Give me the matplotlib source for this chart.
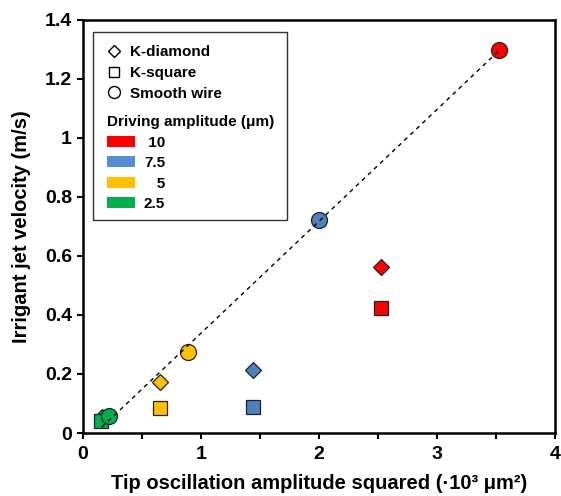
import numpy as np
import matplotlib
matplotlib.use("Agg")
import matplotlib.pyplot as plt
from matplotlib.lines import Line2D
from matplotlib.patches import Patch, Rectangle

plt.rcParams['font.family'] = ['Liberation Sans', 'DejaVu Sans']
plt.rcParams['font.weight'] = 'bold'

# Data (order: 10, 7.5, 5, 2.5 µm driving amplitude)
amplitudes = [" 10", "7.5", "   5", "2.5"]
point_colors = ["#FF0000", "#4F81BD", "#FFC000", "#00B050"]
legend_colors = ["#FF0000", "#558ED5", "#FFC000", "#00B050"]

diamond_x = [2.53, 1.44, 0.65, 0.16]
diamond_y = [0.562, 0.214, 0.173, 0.055]
square_x = [2.53, 1.44, 0.65, 0.155]
square_y = [0.424, 0.087, 0.086, 0.040]
circle_x = [3.53, 2.00, 0.89, 0.22]
circle_y = [1.298, 0.723, 0.275, 0.057]

fig = plt.figure(figsize=(5.61, 4.96), dpi=100)
ax = fig.add_axes([0.148, 0.127, 0.841, 0.833])

edge = "#222222"
for i in range(4):
    ax.plot(diamond_x[i], diamond_y[i], marker='D', ms=8.5, mfc=point_colors[i],
            mec=edge, mew=0.9, ls='none', zorder=3)
for i in range(4):
    ax.plot(square_x[i], square_y[i], marker='s', ms=10, mfc=point_colors[i],
            mec=edge, mew=0.9, ls='none', zorder=4)
for i in range(4):
    ax.plot(circle_x[i], circle_y[i], marker='o', ms=11.5, mfc=point_colors[i],
            mec=edge, mew=0.9, ls='none', zorder=5)

# linear fit through smooth wire data
k, b = np.polyfit(circle_x, circle_y, 1)
xl = np.array([min(circle_x) - 0.06, max(circle_x)])
ax.plot(xl, k * xl + b, color='black', lw=1.0, ls=(0, (3, 3)), zorder=6)

ax.set_xlim(0, 4)
ax.set_ylim(0, 1.4)
ax.set_xticks([0, 1, 2, 3, 4])
ax.set_xticklabels(["0", "1", "2", "3", "4"])
ax.set_xticks([0.5, 1.5, 2.5, 3.5], minor=True)
yt = [0, 0.2, 0.4, 0.6, 0.8, 1.0, 1.2, 1.4]
ax.set_yticks(yt)
ax.set_yticklabels(["0", "0.2", "0.4", "0.6", "0.8", "1", "1.2", "1.4"])
ax.tick_params(which='both', direction='out', width=1.5, length=4.5, labelsize=14)
ax.tick_params(axis='x', which='both', pad=4.5)
ax.tick_params(axis='y', which='both', pad=3.5)
for s in ax.spines.values():
    s.set_linewidth(1.8)

ax.set_xlabel("Tip oscillation amplitude squared (\u00b710\u00b3 \u03bcm\u00b2)",
              fontsize=14.5, fontweight='bold', labelpad=8)
ax.set_ylabel("Irrigant jet velocity (m/s)", fontsize=14.5, fontweight='bold', labelpad=10)

# Legend
mh = [Line2D([], [], marker='D', ms=6.2, mfc='white', mec='black', mew=1.0, ls='none'),
      Line2D([], [], marker='s', ms=7.2, mfc='white', mec='black', mew=1.0, ls='none'),
      Line2D([], [], marker='o', ms=8.6, mfc='white', mec='black', mew=1.0, ls='none')]
leg1 = ax.legend(mh, ["K-diamond", "K-square", "Smooth wire"], loc='upper left',
                 bbox_to_anchor=(0.0508, 0.939), borderaxespad=0, borderpad=0,
                 frameon=False, handlelength=0.92, handletextpad=0.59,
                 labelspacing=0.45, prop={'weight': 'bold', 'size': 11})
ax.add_artist(leg1)
ph = [Patch(facecolor=c, edgecolor='none') for c in legend_colors]
leg2 = ax.legend(ph, amplitudes, loc='upper left', bbox_to_anchor=(0.0508, 0.769),
                 borderaxespad=0, borderpad=0, frameon=False,
                 handlelength=1.83, handleheight=0.72, handletextpad=0.59,
                 labelspacing=0.42, prop={'weight': 'bold', 'size': 11},
                 title="Driving amplitude (\u03bcm)", alignment='left',
                 title_fontproperties={'weight': 'bold', 'size': 11})
ax.add_patch(Rectangle((0.021, 0.516), 0.411, 0.455, transform=ax.transAxes,
                       fill=False, edgecolor='#333333', lw=1.0, zorder=7))

fig.savefig("out.png", dpi=100)
